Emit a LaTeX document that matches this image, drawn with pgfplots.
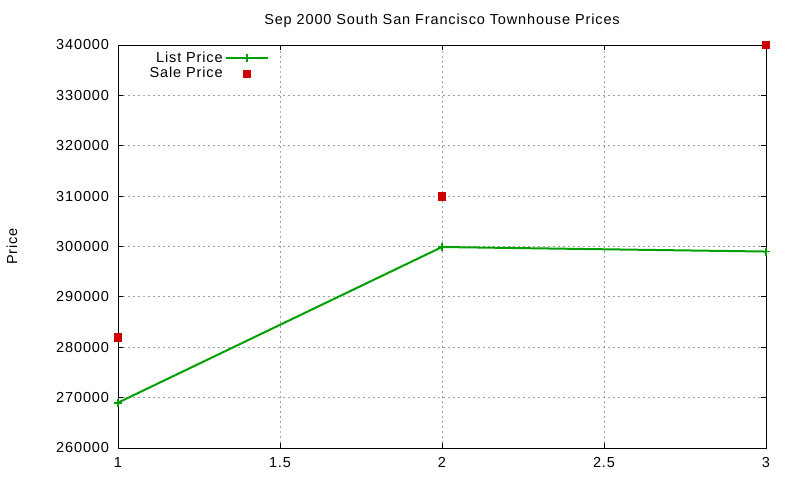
\documentclass[border=0pt]{standalone}
\usepackage{pgfplots}
\pgfplotsset{compat=1.18}
\usepackage{fontspec}
\setmainfont{Liberation Sans}[LetterSpace=6]
\definecolor{gpgreen}{RGB}{0,160,0}
\definecolor{gpred}{RGB}{204,0,0}
\definecolor{gpgrid}{RGB}{160,160,160}
\begin{document}
\fontsize{14.5pt}{16pt}\selectfont
\begin{tikzpicture}[x=1pt,y=1pt]
\useasboundingbox (-118,-32) rectangle (682,448);
\begin{axis}[
    at={(0,0)}, anchor=south west,
    scale only axis,
    width=648pt, height=403pt,
    xmin=1, xmax=3, ymin=260000, ymax=340000,
    xtick={1,1.5,2,2.5,3},
    ytick={260000,270000,...,340000},
    scaled y ticks=false,
    yticklabel style={xshift=-4pt, /pgf/number format/.cd, fixed, 1000 sep={}},
    /pgf/number format/assume math mode=true,
    tick align=inside,
    major tick length=5pt,
    tick style={black, line width=0.8pt},
    axis line style={line width=0.8pt},
    grid=major,
    grid style={gpgrid, line width=0.8pt, dash pattern=on 2pt off 3pt},
    title={Sep 2000 South San Francisco Townhouse Prices},
    title style={yshift=6pt},
    ylabel={Price},
    ylabel style={at={(axis description cs:0,0.5)}, yshift=106pt, anchor=center},
    xticklabel style={yshift=-4pt},
    clip=false,
    legend style={draw=none, fill=none, at={(axis cs:1.475,339500)}, anchor=north east,
        row sep=-1pt, font=\fontsize{14.5pt}{16pt}\selectfont},
    legend cell align=right,
    legend plot pos=right,
    legend image code/.code={\draw[mark repeat=2,mark phase=2,#1] plot coordinates {(6pt,0pt) (27pt,0pt) (48pt,0pt)};},
]
\addplot[gpgreen, line width=2pt, mark=+, mark size=4pt, mark options={line width=1.8pt}] coordinates {
    (1,269000) (2,299900) (3,299000)
};
\addlegendentry{List Price}
\addplot[only marks, gpred, mark=square*, mark size=3.6pt] coordinates {
    (1,282000) (2,310000) (3,340000)
};
\addlegendentry{Sale Price}
\end{axis}
\end{tikzpicture}
\end{document}
